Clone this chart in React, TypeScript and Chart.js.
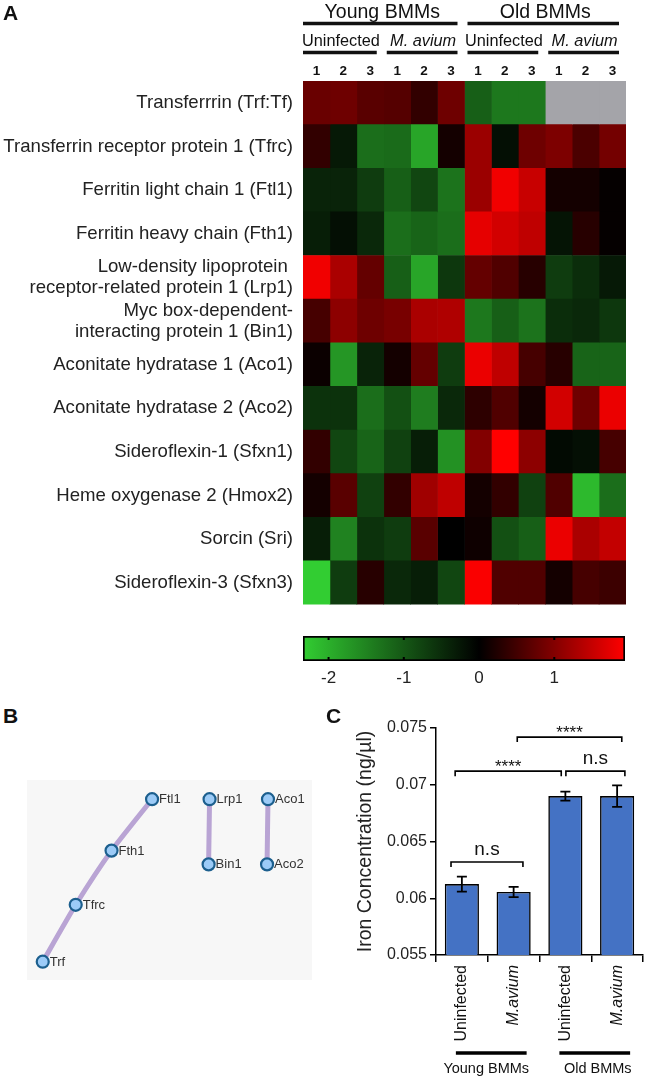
import React, { useEffect, useRef } from 'react';
import { Chart, registerables } from 'chart.js';

Chart.register(...registerables);

const FONT = "'Liberation Sans', Arial, Helvetica, sans-serif";
Chart.defaults.font.family = FONT;
Chart.defaults.color = '#222';

// ---------- Panel A: heatmap ----------
const ROW_LABELS: (string | string[])[] = [
  'Transferrrin (Trf:Tf)',
  'Transferrin receptor protein 1 (Tfrc)',
  'Ferritin light chain 1 (Ftl1)',
  'Ferritin heavy chain (Fth1)',
  ['Low-density lipoprotein ', 'receptor-related protein 1 (Lrp1)'],
  ['Myc box-dependent-', 'interacting protein 1 (Bin1)'],
  'Aconitate hydratase 1 (Aco1)',
  'Aconitate hydratase 2 (Aco2)',
  'Sideroflexin-1 (Sfxn1)',
  'Heme oxygenase 2 (Hmox2)',
  'Sorcin (Sri)',
  'Sideroflexin-3 (Sfxn3)',
];
const SAMPLE_NUMS = ['1', '2', '3', '1', '2', '3', '1', '2', '3', '1', '2', '3'];
const AGE_GROUPS = ['Young BMMs', 'Old BMMs'];
const INFECTION_GROUPS = ['Uninfected', 'M. avium', 'Uninfected', 'M. avium'];

const TRF = [0.80, 0.84, 0.68, 0.65, 0.38, 0.84, -1.08, -1.37, -1.37, null, null, null];
const TFRC = [0.38, -0.29, -1.26, -1.22, -1.88, 0.15, 1.18, -0.17, 0.84, 0.95, 0.57, 0.88];
const FTL1 = [-0.40, -0.40, -0.68, -1.08, -0.80, -1.31, 1.18, 1.83, 1.52, 0.15, 0.15, 0.04];
const FTH1 = [-0.34, -0.17, -0.46, -1.26, -1.14, -1.26, 1.75, 1.60, 1.45, -0.23, 0.30, 0.04];
const LRP1 = [1.83, 1.29, 0.76, -1.08, -1.88, -0.63, 0.76, 0.61, 0.30, -0.68, -0.51, -0.29];
const BIN1 = [0.53, 1.07, 0.84, 0.91, 1.29, 1.33, -1.37, -1.08, -1.31, -0.51, -0.46, -0.63];
const ACO1 = [0.08, -1.71, -0.40, 0.15, 0.76, -0.68, 1.79, 1.45, 0.53, 0.30, -1.14, -1.14];
const ACO2 = [-0.57, -0.57, -1.26, -0.91, -1.43, -0.46, 0.34, 0.61, 0.15, 1.60, 0.84, 1.79];
const SFXN1 = [0.38, -0.80, -1.14, -0.74, -0.34, -1.65, 0.99, 1.94, 1.07, -0.11, -0.17, 0.53];
const HMOX2 = [0.15, 0.68, -0.74, 0.38, 1.22, 1.45, 0.15, 0.38, -0.74, 0.61, -2.11, -1.26];
const SRI = [-0.34, -1.48, -0.57, -0.68, 0.68, 0.0, 0.11, -0.91, -1.08, 1.79, 1.29, 1.48];
const SFXN3 = [-2.34, -0.68, 0.30, -0.46, -0.34, -0.80, 1.90, 0.61, 0.61, 0.15, 0.53, 0.46];
const HEAT_ROWS: (number | null)[][] = [TRF, TFRC, FTL1, FTH1, LRP1, BIN1, ACO1, ACO2, SFXN1, HMOX2, SRI, SFXN3];

const SCALE_MIN = -2.34;
const SCALE_MAX = 1.94;
const COLORBAR_TICKS = [-2, -1, 0, 1];

// ---------- Panel B: network ----------
const NODE_NAMES = ['Trf', 'Tfrc', 'Fth1', 'Ftl1', 'Lrp1', 'Bin1', 'Aco1', 'Aco2'];
const NODE_X = [8, 43, 81, 124, 185, 184, 247, 246];
const NODE_Y = [189, 127, 68, 12, 12, 83, 12, 83];
const EDGE_PATHS = [['Trf', 'Tfrc', 'Fth1', 'Ftl1'], ['Lrp1', 'Bin1'], ['Aco1', 'Aco2']];

// ---------- Panel C: bar chart ----------
const BAR_LABELS = ['Uninfected', 'M.avium', 'Uninfected', 'M.avium'];
const BAR_VALUES = [0.06125, 0.06055, 0.0690, 0.0690];
const BAR_ERRORS = [0.00066, 0.00045, 0.0004, 0.00095];
const BAR_GROUPS = ['Young BMMs', 'Old BMMs'];
const SIG_BRACKETS = [
  { from: -0.21, to: 1.18, y: 0.0632, label: 'n.s' },
  { from: -0.13, to: 1.92, y: 0.0712, label: '****' },
  { from: 2.01, to: 3.15, y: 0.0712, label: 'n.s' },
  { from: 1.07, to: 3.09, y: 0.0742, label: '****' },
];

function heatColor(v: number | null): string {
  if (v === null || v === undefined) return '#a4a4a9';
  if (v < 0) {
    const t = Math.min(1, v / SCALE_MIN);
    return `rgb(${Math.round(50 * t)},${Math.round(205 * t)},${Math.round(50 * t)})`;
  }
  const t = Math.min(1, v / SCALE_MAX);
  return `rgb(${Math.round(255 * t)},0,0)`;
}

const heatHeaderPlugin = {
  id: 'heatHeader',
  afterDraw(chart: any) {
    const { ctx } = chart;
    const xs = chart.scales.x;
    ctx.save();
    ctx.fillStyle = '#111';
    ctx.strokeStyle = '#111';
    ctx.textAlign = 'center';
    ctx.textBaseline = 'alphabetic';
    ctx.lineWidth = 3.5;
    AGE_GROUPS.forEach((g, i) => {
      const s = i * 6;
      const e = s + 6;
      const x1 = xs.getPixelForValue(s) + (s ? 3 : 0);
      const x2 = xs.getPixelForValue(e) - 7;
      ctx.beginPath();
      ctx.moveTo(x1, 23.5);
      ctx.lineTo(x2, 23.5);
      ctx.stroke();
      ctx.font = `19.5px ${FONT}`;
      ctx.fillText(g, (x1 + x2) / 2 + 2, 18);
    });
    INFECTION_GROUPS.forEach((g, i) => {
      const s = i * 3;
      const e = s + 3;
      const x1 = xs.getPixelForValue(s) + (s ? 3 : 0);
      const x2 = xs.getPixelForValue(e) - 7;
      ctx.beginPath();
      ctx.moveTo(x1, 52.5);
      ctx.lineTo(x2, 52.5);
      ctx.stroke();
      ctx.font = `${g.startsWith('M.') ? 'italic ' : ''}16.3px ${FONT}`;
      ctx.fillText(g, (x1 + x2) / 2 + 1, 46);
    });
    ctx.restore();
  },
};

const colorbarTicksPlugin = {
  id: 'cbTicks',
  afterDatasetsDraw(chart: any) {
    const { ctx, chartArea } = chart;
    const xs = chart.scales.x;
    ctx.save();
    ctx.strokeStyle = '#000';
    ctx.lineWidth = 2;
    COLORBAR_TICKS.forEach((t) => {
      const px = xs.getPixelForValue(t);
      ctx.beginPath();
      ctx.moveTo(px, chartArea.top);
      ctx.lineTo(px, chartArea.top + 4);
      ctx.moveTo(px, chartArea.bottom - 4);
      ctx.lineTo(px, chartArea.bottom);
      ctx.stroke();
    });
    ctx.restore();
  },
};

const nodeLabelPlugin = {
  id: 'nodeLabels',
  afterDatasetsDraw(chart: any) {
    const { ctx } = chart;
    const meta = chart.getDatasetMeta(0);
    ctx.save();
    ctx.font = `13px ${FONT}`;
    ctx.fillStyle = '#333';
    ctx.textAlign = 'left';
    ctx.textBaseline = 'middle';
    meta.data.forEach((pt: any, i: number) => {
      ctx.fillText(NODE_NAMES[i], pt.x + 7, pt.y + 0.5);
    });
    ctx.restore();
  },
};

const barExtrasPlugin = {
  id: 'barExtras',
  afterDatasetsDraw(chart: any) {
    const { ctx } = chart;
    const ys = chart.scales.y;
    const xs = chart.scales.x;
    const meta = chart.getDatasetMeta(0);
    ctx.save();
    ctx.strokeStyle = '#000';
    ctx.fillStyle = '#111';
    ctx.lineWidth = 1.8;
    meta.data.forEach((bar: any, i: number) => {
      const yt = ys.getPixelForValue(BAR_VALUES[i] + BAR_ERRORS[i]);
      const yb = ys.getPixelForValue(BAR_VALUES[i] - BAR_ERRORS[i]);
      ctx.beginPath();
      ctx.moveTo(bar.x, yt);
      ctx.lineTo(bar.x, yb);
      ctx.moveTo(bar.x - 5, yt);
      ctx.lineTo(bar.x + 5, yt);
      ctx.moveTo(bar.x - 5, yb);
      ctx.lineTo(bar.x + 5, yb);
      ctx.stroke();
    });
    ctx.lineWidth = 1.6;
    ctx.textAlign = 'center';
    ctx.textBaseline = 'alphabetic';
    SIG_BRACKETS.forEach((b) => {
      const x1 = xs.getPixelForValue(b.from);
      const x2 = xs.getPixelForValue(b.to);
      const yp = ys.getPixelForValue(b.y);
      ctx.beginPath();
      ctx.moveTo(x1, yp + 5);
      ctx.lineTo(x1, yp);
      ctx.lineTo(x2, yp);
      ctx.lineTo(x2, yp + 5);
      ctx.stroke();
      if (b.label === 'n.s') {
        ctx.font = `19px ${FONT}`;
        ctx.fillText(b.label, (x1 + x2) / 2, yp - 7);
      } else {
        ctx.font = `17px ${FONT}`;
        ctx.fillText(b.label, (x1 + x2) / 2, yp + 1);
      }
    });
    ctx.restore();
  },
  afterDraw(chart: any) {
    const { ctx } = chart;
    const xs = chart.scales.x;
    ctx.save();
    ctx.strokeStyle = '#000';
    ctx.fillStyle = '#111';
    ctx.lineWidth = 3.5;
    ctx.textAlign = 'center';
    ctx.textBaseline = 'alphabetic';
    ctx.font = `14.5px ${FONT}`;
    BAR_GROUPS.forEach((g, i) => {
      const a = i * 2;
      const x1 = xs.getPixelForValue(a) - 6;
      const x2 = xs.getPixelForValue(a + 1) + 13;
      ctx.beginPath();
      ctx.moveTo(x1, 353);
      ctx.lineTo(x2, 353);
      ctx.stroke();
      ctx.fillText(g, (x1 + x2) / 2 + (i === 0 ? -5 : 3), 373);
    });
    ctx.restore();
  },
};

export default function App() {
  const heatRef = useRef<HTMLCanvasElement>(null);
  const cbRef = useRef<HTMLCanvasElement>(null);
  const netRef = useRef<HTMLCanvasElement>(null);
  const barRef = useRef<HTMLCanvasElement>(null);

  useEffect(() => {
    const charts: Chart[] = [];

    // Heatmap
    charts.push(
      new Chart(heatRef.current as HTMLCanvasElement, {
        type: 'bar',
        data: {
          labels: ROW_LABELS as any,
          datasets: SAMPLE_NUMS.map((_, c) => ({
            data: ROW_LABELS.map(() => [c, c + 1]) as any,
            backgroundColor: HEAT_ROWS.map((r) => heatColor(r[c])),
            borderWidth: 0,
            barPercentage: 1,
            categoryPercentage: 1,
            grouped: false,
          })),
        },
        options: {
          indexAxis: 'y',
          animation: false,
          responsive: false,
          devicePixelRatio: 1,
          layout: { padding: { top: 61, right: 19, bottom: 12, left: 0 } },
          plugins: { legend: { display: false }, tooltip: { enabled: false } },
          scales: {
            x: {
              type: 'linear',
              position: 'top',
              min: 0,
              max: 12,
              grid: { display: false, drawTicks: false },
              border: { display: false },
              afterBuildTicks: (s: any) => {
                s.ticks = SAMPLE_NUMS.map((_, i) => ({ value: i + 0.5 }));
              },
              afterFit: (s: any) => {
                s.height = 20;
              },
              ticks: {
                autoSkip: false,
                maxRotation: 0,
                padding: 2,
                color: '#111',
                font: { size: 13.5, weight: 'bold' },
                callback: (_v: any, i: number) => SAMPLE_NUMS[i],
              },
            },
            y: {
              type: 'category',
              grid: { display: false, drawTicks: false },
              border: { display: false },
              afterFit: (s: any) => {
                s.width = 303;
              },
              ticks: {
                autoSkip: false,
                padding: 10,
                color: '#222',
                font: { size: 18.6, lineHeight: 1.12 },
              },
            },
          },
        } as any,
        plugins: [heatHeaderPlugin],
      })
    );

    // Colorbar
    charts.push(
      new Chart(cbRef.current as HTMLCanvasElement, {
        type: 'bar',
        data: {
          labels: [''],
          datasets: [
            {
              data: [[SCALE_MIN, SCALE_MAX]] as any,
              backgroundColor: (ctx: any) => {
                const { chart } = ctx;
                const area = chart.chartArea;
                if (!area) return '#000';
                const g = chart.ctx.createLinearGradient(area.left, 0, area.right, 0);
                const z = -SCALE_MIN / (SCALE_MAX - SCALE_MIN);
                g.addColorStop(0, heatColor(SCALE_MIN));
                g.addColorStop(z, heatColor(0));
                g.addColorStop(1, heatColor(SCALE_MAX));
                return g;
              },
              borderColor: '#000',
              borderWidth: 2,
              borderSkipped: false,
              barPercentage: 1,
              categoryPercentage: 1,
            },
          ],
        },
        options: {
          indexAxis: 'y',
          animation: false,
          responsive: false,
          devicePixelRatio: 1,
          layout: { padding: { top: 8, right: 20, bottom: 0, left: 303 } },
          plugins: { legend: { display: false }, tooltip: { enabled: false } },
          scales: {
            x: {
              type: 'linear',
              min: SCALE_MIN,
              max: SCALE_MAX,
              grid: { display: false, drawTicks: false },
              border: { display: false },
              afterBuildTicks: (s: any) => {
                s.ticks = COLORBAR_TICKS.map((v) => ({ value: v }));
              },
              afterFit: (s: any) => {
                s.height = 37;
              },
              ticks: {
                padding: 7,
                color: '#222',
                font: { size: 17 },
                callback: (v: any) => String(v),
              },
            },
            y: { display: false },
          },
        } as any,
        plugins: [colorbarTicksPlugin],
      })
    );

    // Network
    const idx = (n: string) => NODE_NAMES.indexOf(n);
    charts.push(
      new Chart(netRef.current as HTMLCanvasElement, {
        type: 'scatter',
        data: {
          datasets: [
            {
              data: NODE_NAMES.map((_, i) => ({ x: NODE_X[i], y: NODE_Y[i] })),
              pointRadius: 6,
              pointBackgroundColor: '#9ccbf7',
              pointBorderColor: '#1c5f8e',
              pointBorderWidth: 2.2,
              order: 0,
              clip: false,
            } as any,
            ...EDGE_PATHS.map((path) => ({
              data: path.map((n) => ({ x: NODE_X[idx(n)], y: NODE_Y[idx(n)] })),
              showLine: true,
              borderColor: '#b9a4d4',
              borderWidth: 5,
              pointRadius: 0,
              tension: 0.2,
              order: 1,
            })),
          ],
        },
        options: {
          animation: false,
          responsive: false,
          devicePixelRatio: 1,
          layout: { padding: 0 },
          plugins: { legend: { display: false }, tooltip: { enabled: false } },
          scales: {
            x: { type: 'linear', min: 0, max: 285, display: false },
            y: { type: 'linear', min: 0, max: 200, reverse: true, display: false },
          },
        } as any,
        plugins: [nodeLabelPlugin],
      })
    );

    // Bar chart
    charts.push(
      new Chart(barRef.current as HTMLCanvasElement, {
        type: 'bar',
        data: {
          labels: BAR_LABELS,
          datasets: [
            {
              data: BAR_VALUES,
              backgroundColor: '#4472c4',
              borderColor: '#000',
              borderWidth: 1.6,
              barPercentage: 0.66,
              categoryPercentage: 1,
            },
          ],
        },
        options: {
          animation: false,
          responsive: false,
          devicePixelRatio: 1,
          layout: { padding: { top: 28, right: 2, bottom: 0, left: 0 } },
          plugins: { legend: { display: false }, tooltip: { enabled: false } },
          scales: {
            y: {
              min: 0.055,
              max: 0.075,
              afterBuildTicks: (s: any) => {
                s.ticks = [0.055, 0.06, 0.065, 0.07, 0.075].map((v) => ({ value: v }));
              },
              afterFit: (s: any) => {
                s.width = 146;
              },
              grid: { drawOnChartArea: false, drawTicks: true, tickLength: 6, color: '#000', lineWidth: 1.5 },
              border: { color: '#000', width: 1.5 },
              ticks: {
                padding: 3,
                color: '#222',
                font: { size: 16 },
                callback: (v: any) => String(+Number(v).toFixed(3)),
              },
              title: {
                display: true,
                text: 'Iron Concentration (ng/µl)',
                color: '#222',
                font: { size: 19.5 },
                padding: { top: 64, bottom: 0 },
              },
            },
            x: {
              afterFit: (s: any) => {
                s.height = 126;
              },
              grid: { drawOnChartArea: false, drawTicks: true, tickLength: 7, color: '#000', lineWidth: 1.5 },
              border: { color: '#000', width: 1.5 },
              ticks: {
                minRotation: 90,
                maxRotation: 90,
                padding: 3,
                color: '#111',
                font: (ctx: any) => ({
                  size: 16,
                  style: BAR_LABELS[ctx.index] && BAR_LABELS[ctx.index].startsWith('M.') ? 'italic' : 'normal',
                }),
              },
            },
          },
        } as any,
        plugins: [barExtrasPlugin],
      })
    );

    return () => charts.forEach((c) => c.destroy());
  }, []);

  const letter: React.CSSProperties = {
    position: 'absolute',
    fontFamily: FONT,
    fontWeight: 'bold',
    fontSize: 21,
    lineHeight: '21px',
    color: '#111',
  };

  return (
    <div style={{ position: 'absolute', left: 0, top: 0, width: 645, height: 1081, background: '#fff', overflow: 'hidden' }}>
      <canvas ref={heatRef} width={645} height={625} style={{ position: 'absolute', left: 0, top: 0 }} />
      <canvas ref={cbRef} width={645} height={70} style={{ position: 'absolute', left: 0, top: 628 }} />
      <canvas ref={netRef} width={285} height={200} style={{ position: 'absolute', left: 27, top: 780, background: '#f7f7f7' }} />
      <canvas ref={barRef} width={355} height={381} style={{ position: 'absolute', left: 290, top: 700 }} />
      <div style={{ ...letter, left: 3, top: 2 }}>A</div>
      <div style={{ ...letter, left: 3, top: 705 }}>B</div>
      <div style={{ ...letter, left: 326, top: 705 }}>C</div>
    </div>
  );
}
